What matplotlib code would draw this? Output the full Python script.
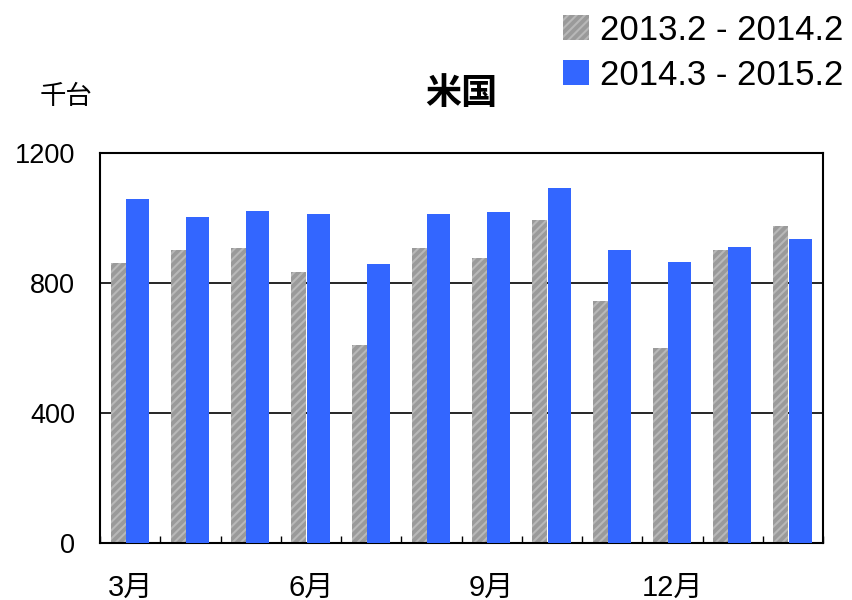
import matplotlib
matplotlib.use("Agg")
import matplotlib.pyplot as plt
import numpy as np

plt.rcParams['font.family'] = ['Liberation Sans', 'Noto Sans CJK JP', 'DejaVu Sans']
plt.rcParams['hatch.linewidth'] = 1.5

months = ['3月', '4月', '5月', '6月', '7月', '8月', '9月', '10月', '11月', '12月', '1月', '2月']
prev_year = [862, 901, 908, 834, 609, 908, 877, 994, 745, 600, 901, 975]
this_year = [1058, 1003, 1022, 1012, 858, 1012, 1018, 1092, 901, 865, 911, 935]
labels = ['2013.2 - 2014.2', '2014.3 - 2015.2']

fig = plt.figure(figsize=(8.52, 6), dpi=100)
ax = fig.add_axes([0.1174, 0.095, 0.8486, 0.65])

x = np.arange(len(months))
b1 = ax.bar(x - 0.2, prev_year, width=0.25, color='#9a9a9a', edgecolor='#b8b8b8',
            hatch='////', linewidth=0, label=labels[0], zorder=2)
b2 = ax.bar(x + 0.12, this_year, width=0.38, color='#3366ff', linewidth=0,
            label=labels[1], zorder=3)

ax.set_xlim(-0.5, 11.5)
ax.set_ylim(0, 1200)
ax.set_yticks([0, 400, 800, 1200])
ax.yaxis.grid(True, color='black', linewidth=1.2, zorder=1)
ax.set_axisbelow(True)
ax.tick_params(axis='y', labelsize=19.5, length=0, pad=18)

# month labels on every third group, boundary ticks inside
ax.set_xticks(x[::3])
ax.set_xticklabels([months[i] for i in range(0, 12, 3)], fontsize=21)
ax.tick_params(axis='x', length=0, pad=22)
ax.set_xticks(np.arange(-0.5, 12, 1), minor=True)
ax.tick_params(axis='x', which='minor', direction='in', length=5, width=1)

for s in ax.spines.values():
    s.set_linewidth(1.5)

fig.text(0.077, 0.838, '千台', fontsize=19, ha='center', va='center')
fig.text(0.541, 0.842, '米国', fontsize=26, fontweight='bold', ha='center', va='center')

fig.legend(handles=[b1, b2], loc='upper right', bbox_to_anchor=(1.018, 1.018),
           frameon=False, fontsize=25, handlelength=0.75, handleheight=0.75,
           handletextpad=0.3, labelspacing=0.35, borderaxespad=0.3)

fig.savefig('out.png', dpi=100)
